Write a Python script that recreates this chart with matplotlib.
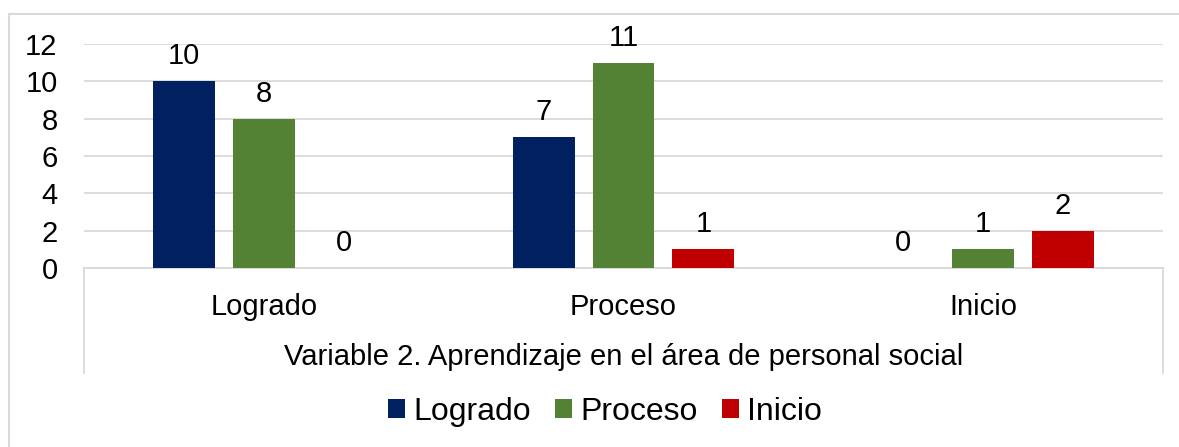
import matplotlib
matplotlib.use("Agg")
import matplotlib.pyplot as plt
import numpy as np
from matplotlib.lines import Line2D

plt.rcParams['font.family'] = ['Liberation Sans', 'DejaVu Sans']

categories = ["Logrado", "Proceso", "Inicio"]
series_names = ["Logrado", "Proceso", "Inicio"]
logrado = [10, 7, 0]
proceso = [8, 11, 1]
inicio = [0, 1, 2]
colors = ["#002060", "#548235", "#C00000"]
xlabel_text = "Variable 2. Aprendizaje en el área de personal social"
yticks = [0, 2, 4, 6, 8, 10, 12]

W, H = 1179, 447
fig = plt.figure(figsize=(W / 100, H / 100), dpi=100)

L, R, T, B = 84, 1163, 44, 268
ax = fig.add_axes([L / W, 1 - B / H, (R - L) / W, (B - T) / H])

grid_c = "#D9D9D9"
x = np.arange(len(categories))
width = 0.172
offset = 0.222
for i, (name, vals) in enumerate(zip(series_names, [logrado, proceso, inicio])):
    bars = ax.bar(x + (i - 1) * offset, vals, width, color=colors[i], label=name, zorder=3)
    for rect, v in zip(bars, vals):
        ax.annotate(str(v), (rect.get_x() + rect.get_width() / 2, v),
                    xytext=(0, 8), textcoords="offset points",
                    ha="center", va="bottom", fontsize=21, color="black")

ax.set_xlim(-0.5, 2.5)
ax.set_ylim(0, 12)
ax.set_yticks(yticks)
ax.set_yticklabels([str(t) for t in yticks])
ax.grid(axis="y", color=grid_c, linewidth=1.3, zorder=0)
ax.set_axisbelow(True)
for s in ["top", "right", "left"]:
    ax.spines[s].set_visible(False)
ax.spines["bottom"].set_color(grid_c)
ax.spines["bottom"].set_linewidth(1.3)
ax.set_xticks(x)
ax.set_xticklabels(categories)
ax.tick_params(axis="x", length=0, pad=18, labelsize=21)
ax.tick_params(axis="y", length=0, pad=19, labelsize=21)

# category box side lines
depth = (373 - B) / (B - T)
for xa in (0, 1):
    ax.add_line(Line2D([xa, xa], [0, -depth], transform=ax.transAxes,
                       color=grid_c, linewidth=1.3, clip_on=False))

ax.text(0.5, (B - 357) / (B - T), xlabel_text, transform=ax.transAxes,
        ha="center", va="center", fontsize=21)

# outer frame
fig.add_artist(Line2D([9 / W, 1], [1 - 14 / H, 1 - 14 / H], transform=fig.transFigure,
                      color=grid_c, linewidth=1.5))
fig.add_artist(Line2D([9 / W, 9 / W], [0, 1 - 14 / H], transform=fig.transFigure,
                      color=grid_c, linewidth=1.5))

fig.legend(loc="center", bbox_to_anchor=(605 / W, 1 - 412 / H), ncol=3,
           frameon=False, fontsize=23, handlelength=0.55, handleheight=0.55,
           handletextpad=0.25, columnspacing=0.75)

fig.savefig("out.png", dpi=100)
